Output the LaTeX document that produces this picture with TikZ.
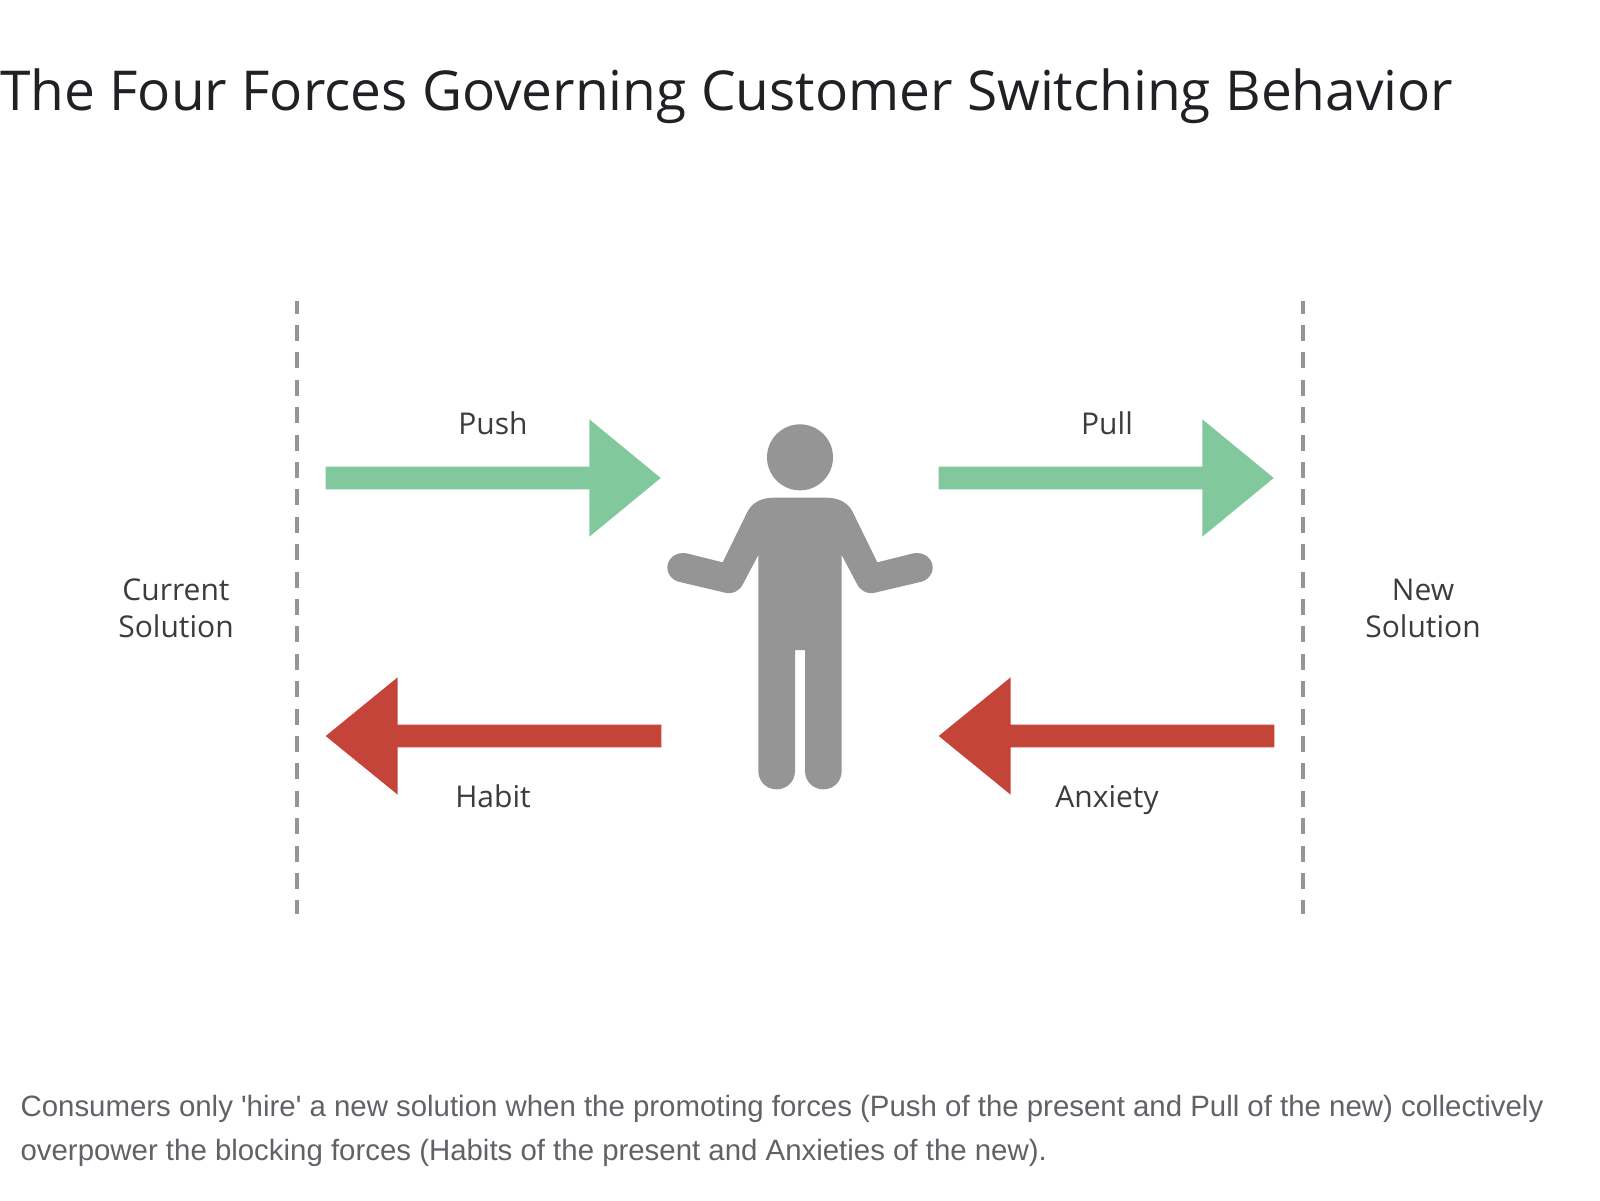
\documentclass[tikz,border=0pt]{standalone}
\usepackage{fontspec}
\setmainfont{Open Sans}
\newfontfamily\capfont{Liberation Sans}
\definecolor{pushgreen}{HTML}{81C99D}
\definecolor{blockred}{HTML}{C44439}
\definecolor{figgray}{HTML}{959595}
\definecolor{titleink}{HTML}{202124}
\definecolor{capink}{HTML}{5F6368}
\definecolor{labelink}{HTML}{3C3C3C}
\tikzset{
 titletext/.style={anchor=base west,inner sep=0,text=titleink,font=\fontsize{55}{60}\selectfont},
 captext/.style={anchor=base west,inner sep=0,text=capink,font=\capfont\fontsize{29.4}{36}\selectfont},
 lbl/.style={anchor=base,inner sep=0,text=labelink,font=\fontsize{30}{36}\selectfont},
 divider/.style={draw=figgray,line width=4pt,dash pattern=on 16pt off 11.4pt},
 goarrow/.style={fill=pushgreen},
 stoparrow/.style={fill=blockred},
 figure/.style={fill=figgray}
}
\begin{document}
\begin{tikzpicture}[x=1pt,y=-1pt]
\useasboundingbox (0,0) rectangle (1600,1200);
\fill[white] (0,0) rectangle (1600,1200);
\node[titletext] (title) at (0,110) {The Four Forces Governing Customer Switching Behavior};
\coordinate (ltop) at (296.5,300.5); \coordinate (lbot) at (296.5,914);
\coordinate (rtop) at (1303,300.5); \coordinate (rbot) at (1303,914);
\draw[divider,dash phase=3pt] (ltop) -- (lbot);
\draw[divider,dash phase=3pt] (rtop) -- (rbot);
\foreach \dx in {0,613}{
\fill[goarrow,xshift=\dx pt] (325.7,466.7) -- (589.3,466.7) -- (589.3,419.3) -- (660.7,478) -- (589.3,536.7) -- (589.3,489.3) -- (325.7,489.3) -- cycle;
\fill[stoparrow,xshift=\dx pt] (661.3,724.7) -- (397.7,724.7) -- (397.7,677.3) -- (325.7,736) -- (397.7,794.7) -- (397.7,747.3) -- (661.3,747.3) -- cycle;
}
\node[lbl] (push) at (493,434) {Push};
\node[lbl] (pull) at (1107,434) {Pull};
\node[lbl] (habit) at (493,807.5) {Habit};
\node[lbl] (anxiety) at (1107,807.5) {Anxiety};
\node[lbl] (cur1) at (176,600.5) {Current};
\node[lbl] (cur2) at (176,637.5) {Solution};
\node[lbl] (new1) at (1423,600.5) {New};
\node[lbl] (new2) at (1423,637.5) {Solution};
\begin{scope}[shift={(640,400)},x=0.33333pt,y=-0.33333pt]
\fill[figure] (480,172) circle[radius=99];
\fill[figure] (400,293) -- (560,293) .. controls (600,293) and (628,312) .. (640,340)
 -- (712,487) -- (820,460) .. controls (850,454) and (878,475) .. (878,502)
 .. controls (878,525) and (862,540) .. (845,545) -- (705,578)
 .. controls (680,583) and (660,572) .. (650,550) -- (605,465) -- (605,1113)
 .. controls (605,1145) and (580,1168) .. (550,1168) .. controls (520,1168) and (495,1145) .. (495,1113)
 -- (495,750) -- (465,750) -- (465,1113)
 .. controls (465,1145) and (440,1168) .. (410,1168) .. controls (380,1168) and (355,1145) .. (355,1113)
 -- (355,465) -- (310,550) .. controls (300,572) and (280,583) .. (255,578)
 -- (115,545) .. controls (98,540) and (82,525) .. (82,502)
 .. controls (82,475) and (110,454) .. (140,460) -- (248,487) -- (320,340)
 .. controls (332,312) and (360,293) .. (400,293) -- cycle;
\end{scope}
\node[captext] (cap1) at (20.4,1116) {Consumers only 'hire' a new solution when the promoting forces (Push of the present and Pull of the new) collectively};
\node[captext] (cap2) at (20.4,1160) {overpower the blocking forces (Habits of the present and Anxieties of the new).};
\end{tikzpicture}
\end{document}
